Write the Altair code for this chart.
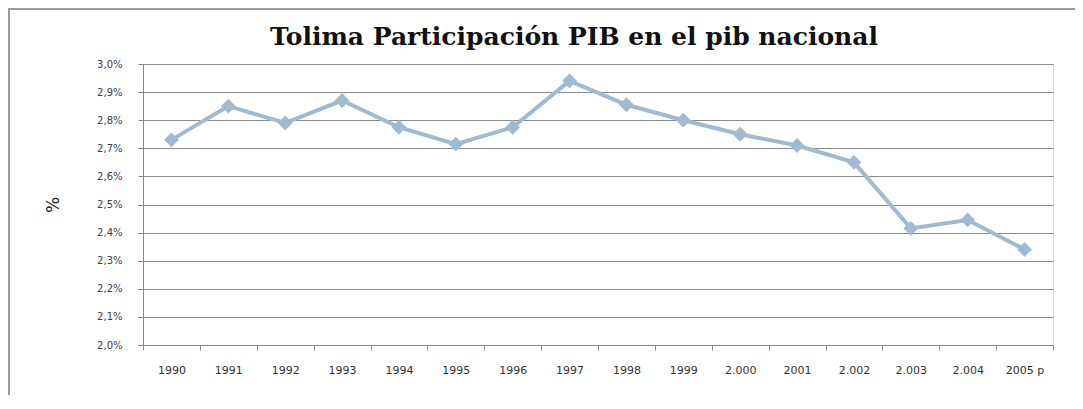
import altair as alt
import pandas as pd

years = ["1990", "1991", "1992", "1993", "1994", "1995", "1996", "1997",
         "1998", "1999", "2.000", "2001", "2.002", "2.003", "2.004", "2005 p"]
share = [2.73, 2.85, 2.79, 2.87, 2.775, 2.715, 2.775, 2.94,
         2.855, 2.80, 2.75, 2.71, 2.65, 2.415, 2.445, 2.34]
y_ticks = [2.0, 2.1, 2.2, 2.3, 2.4, 2.5, 2.6, 2.7, 2.8, 2.9, 3.0]
title_text = "Tolima  Participación PIB en el pib nacional"

df = pd.DataFrame({"year": years, "share": share})

line_color = "#A2BAD0"

x = alt.X("year:N", sort=years, title=None,
          scale=alt.Scale(paddingInner=0, paddingOuter=0),
          axis=alt.Axis(labelAngle=0, labelFont="DejaVu Sans", labelFontSize=11,
                        labelColor="#333333", labelPadding=14, tickBand="extent",
                        tickSize=5, tickColor="#888888", domainColor="#888888",
                        grid=False))
y = alt.Y("share:Q", title="%",
          scale=alt.Scale(domain=[2.0, 3.0], nice=False, zero=False),
          axis=alt.Axis(values=y_ticks,
                        labelExpr="replace(format(datum.value, '.1f'), '.', ',') + '%'",
                        labelFont="DejaVu Sans", labelFontSize=10, labelColor="#404040",
                        labelPadding=16, tickSize=5, tickColor="#888888",
                        domainColor="#888888", gridColor="#8a8a8a", gridWidth=1,
                        titleFont="DejaVu Sans", titleFontSize=17, titleFontWeight="normal",
                        titleColor="#222222", titlePadding=34))

base = alt.Chart(df)
line = base.mark_line(color=line_color, strokeWidth=4).encode(x=x, y=y)
pts = base.mark_point(shape="diamond", filled=True, size=220, color=line_color, opacity=1).encode(x=x, y=y)

one = pd.DataFrame({"t": [title_text]})
frame = alt.Chart(one).mark_rect(
    fillOpacity=0, fill="white", stroke="#9a9a9a", strokeWidth=2
).encode(x=alt.value(-134), x2=alt.value(960), y=alt.value(-55), y2=alt.value(360))

title = alt.Chart(one).mark_text(
    font="DejaVu Serif", fontSize=25, fontWeight="bold", color="#111111",
    align="center", baseline="alphabetic"
).encode(text="t:N", x=alt.value(431), y=alt.value(-19))

chart = alt.layer(frame, line, pts, title).properties(
    width=910, height=281,
    autosize=alt.AutoSizeParams(type="none"),
    padding={"left": 135, "top": 56, "right": 22, "bottom": 50},
).configure_view(stroke=None).configure(background="white")

chart.save("out.html", embed_options={"renderer": "svg", "actions": False})
